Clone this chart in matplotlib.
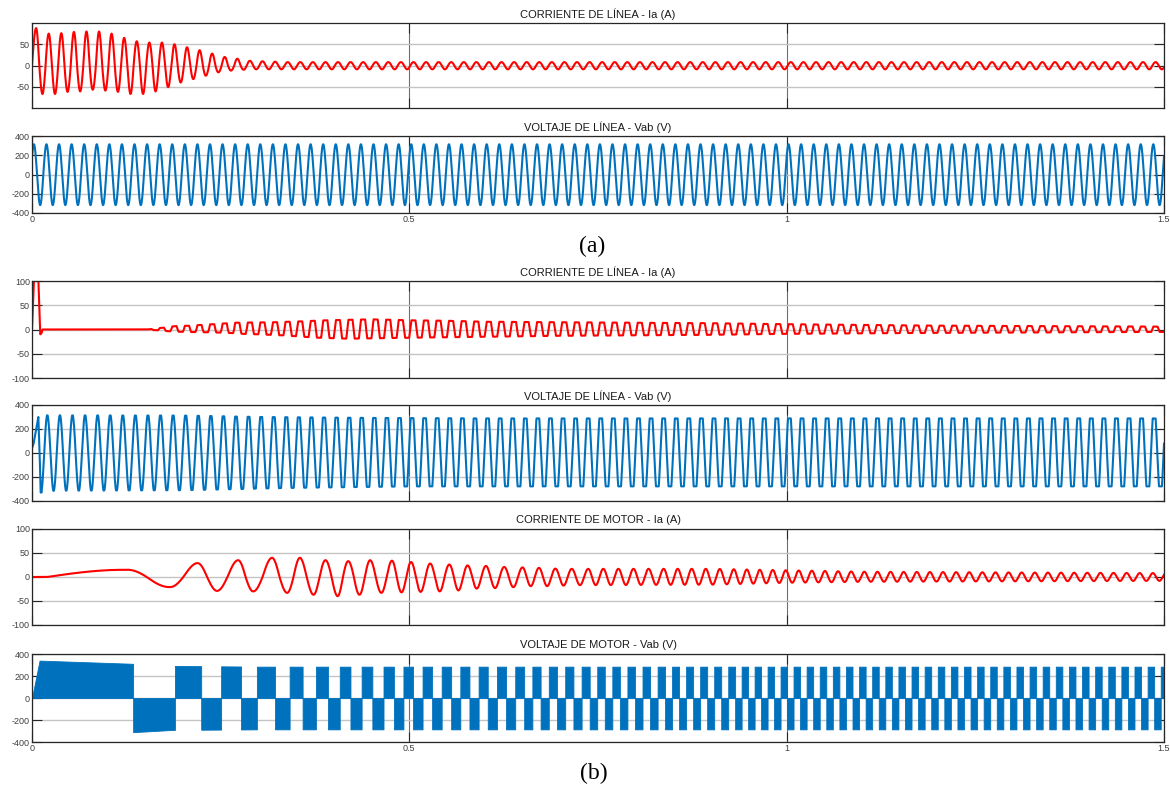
import numpy as np
import matplotlib.pyplot as plt

RED = '#ff0000'
BLUE = '#0072bd'
F_GRID = 60.0

t = np.linspace(0, 1.5, 60001)

# ---- (a) line current Ia (A): peaks / troughs per cycle, first peak at 5.5 ms
a_ia_t0 = 0.0055
a_ia_pos = [88, 75, 76, 79, 80, 80, 75, 65, 57, 54, 54, 50, 43, 36, 28, 20, 16, 11, 10, 9, 8]
a_ia_neg = [-67, -67, -62, -61, -57, -59, -62, -67, -67, -61, -51, -40, -32, -24, -16, -12, -10, -9, -9]

# ---- (a) line voltage Vab (V)
a_vab_t0 = 0.0025
a_vab_pos, a_vab_neg = 314, -318

# ---- (b) line current Ia (A)
b_ia_spike_t = [0, 0.0004, 0.0027, 0.0045, 0.0065, 0.0084, 0.0097, 0.011, 0.0128, 0.0138]
b_ia_spike_v = [0, 14, 110, 170, 150, 105, 42, -10, -7, 0]
b_ia_on = 0.152
b_ia_t0 = 0.172
b_ia_pos_t = [0.152, 0.172, 0.19, 0.21, 0.23, 0.27, 0.32, 0.36, 0.39, 0.45, 0.5, 0.55, 0.6, 0.7, 0.8, 0.9, 1.0, 1.2, 1.5]
b_ia_pos_v = [0, 3.5, 7, 8, 10, 14, 15, 17, 19, 21, 19, 18, 16, 15, 14, 13, 11, 8, 6]
b_ia_neg_t = [0.152, 0.18, 0.2, 0.24, 0.26, 0.28, 0.3, 0.33, 0.35, 0.38, 0.42, 0.5, 0.6, 0.7, 0.8, 0.9, 1.0, 1.2, 1.5]
b_ia_neg_v = [0, -3.5, -5, -6, -7, -9, -10, -12, -14, -17, -19, -17, -15, -13, -12, -11, -9, -7, -5]

# ---- (b) line voltage Vab (V)
b_vab_start_t = [0, 0.002, 0.0045, 0.0065, 0.0084, 0.0100, 0.0115, 0.0128]
b_vab_start_v = [40, 75, 160, 230, 300, 20, -330, -328]
b_vab_t0 = 0.0203
b_vab_pos_t = [0.02, 0.2, 0.3, 0.45, 0.6]
b_vab_pos_v = [314, 312, 300, 292, 288]
b_vab_neg_t = [0.012, 0.03, 0.2, 0.35, 0.5]
b_vab_neg_v = [-330, -314, -310, -290, -278]
b_vab_flat_t = [0, 0.2, 0.5, 1.5]
b_vab_flat_v = [1.0, 1.05, 1.3, 1.35]

# ---- (b) motor current Ia (A): cycle count at read peak / trough times
im_knot_t = [0.0, 0.02, 0.122, 0.182, 0.219, 0.245, 0.273, 0.293, 0.318, 0.338, 0.355, 0.373,
             0.389, 0.405, 0.419, 0.434, 0.448, 0.463, 0.477, 0.553, 0.650, 0.737, 0.837,
             0.930, 1.016, 1.5]
im_knot_cyc = [0, 0, 0.25, 0.75, 1.25, 1.75, 2.25, 2.75, 3.25, 3.75, 4.25, 4.75,
               5.25, 5.75, 6.25, 6.75, 7.25, 7.75, 8.25, 11.25, 15.25, 19.25, 24.25,
               29.25, 34.25, 62.1]
im_pos_t = [0.122, 0.219, 0.273, 0.318, 0.355, 0.389, 0.419, 0.448, 0.477, 0.504, 0.528,
            0.553, 0.578, 0.603, 0.625, 0.65, 0.672, 0.70, 0.9, 1.0, 1.1, 1.5]
im_pos_v = [15, 29, 35, 40, 40, 35, 33, 35, 34, 31, 28, 26, 24, 23, 21, 20, 19, 17, 17, 14, 11, 8]
im_neg_t = [0.182, 0.245, 0.293, 0.338, 0.373, 0.405, 0.434, 0.463, 0.49, 0.515, 0.54,
            0.565, 0.59, 0.615, 0.64, 0.66, 0.685, 0.72, 0.9, 1.0, 1.1, 1.5]
im_neg_v = [-21, -29, -30, -33, -37, -40, -37, -33, -32, -31, -30, -28, -24, -23, -21,
            -19, -19, -17, -16, -12, -10, -8]

# ---- (b) motor voltage Vab (V): PWM blocks, lead over motor current (cycles)
vm_lead = 0.15
vm_top_t = [0, 0.01, 0.13, 0.19, 0.3, 1.5]
vm_top_v = [0, 340, 312, 292, 285, 285]
vm_bot_t = [0.136, 0.187, 0.3, 1.5]
vm_bot_v = [-310, -290, -285, -285]


def half_wave(s, pos, neg):
    return np.where(s >= 0, pos * s, -neg * s)


# line current (a)
tp = a_ia_t0 + np.arange(len(a_ia_pos)) / F_GRID
tn = a_ia_t0 + (np.arange(len(a_ia_neg)) + 0.5) / F_GRID
cyc = np.where(t < a_ia_t0, 0.25 * t / a_ia_t0, 0.25 + (t - a_ia_t0) * F_GRID)
ia_a = half_wave(np.sin(2 * np.pi * cyc), np.interp(t, tp, a_ia_pos), np.interp(t, tn, a_ia_neg))

# line voltage (a)
cyc = 0.25 + (t - a_vab_t0) * F_GRID
vab_a = half_wave(np.sin(2 * np.pi * cyc), a_vab_pos, a_vab_neg)

# line current (b) - rectifier draws a squarish current
cyc = 0.25 + (t - b_ia_t0) * F_GRID
s = np.clip(2.0 * np.sin(2 * np.pi * cyc), -1, 1)
ia_b = half_wave(s, np.interp(t, b_ia_pos_t, b_ia_pos_v), np.interp(t, b_ia_neg_t, b_ia_neg_v))
ia_b[t < b_ia_on] = 0
early = t <= b_ia_spike_t[-1]
ia_b[early] = np.interp(t[early], b_ia_spike_t, b_ia_spike_v)

# line voltage (b)
cyc = 0.25 + (t - b_vab_t0) * F_GRID
s = np.clip(np.interp(t, b_vab_flat_t, b_vab_flat_v) * np.sin(2 * np.pi * cyc), -1, 1)
vab_b = half_wave(s, np.interp(t, b_vab_pos_t, b_vab_pos_v), np.interp(t, b_vab_neg_t, b_vab_neg_v))
early = t <= b_vab_start_t[-1]
vab_b[early] = np.interp(t[early], b_vab_start_t, b_vab_start_v)

# motor current (b)
cyc_m = np.interp(t, im_knot_t, im_knot_cyc)
im_b = half_wave(np.sin(2 * np.pi * cyc_m), np.interp(t, im_pos_t, im_pos_v), np.interp(t, im_neg_t, im_neg_v))

# motor voltage (b)
positive = ((cyc_m + vm_lead) % 1.0) < 0.5
vm_top = np.where(positive, np.interp(t, vm_top_t, vm_top_v), 0)
vm_bot = np.where(positive, 0, np.interp(t, vm_bot_t, vm_bot_v))

# ---------------------------------------------------------------- layout
W, H = 1170, 791
plt.rcParams['font.family'] = ['Liberation Sans', 'DejaVu Sans']
plt.rcParams['axes.unicode_minus'] = False
fig = plt.figure(figsize=(W / 100, H / 100), dpi=100)


def make_axes(top, bottom, title, ylim, yticks, xlabels=False):
    left, right = 32, 1164
    ax = fig.add_axes([left / W, 1 - bottom / H, (right - left) / W, (bottom - top) / H])
    ax.set_xlim(0, 1.5)
    ax.set_ylim(*ylim)
    ax.set_yticks(yticks)
    ax.set_xticks([0, 0.5, 1, 1.5])
    if xlabels:
        ax.set_xticklabels(['0', '0.5', '1', '1.5'])
    else:
        ax.set_xticklabels([])
    ax.yaxis.grid(True, color='#c4c4c4', lw=1.0)
    ax.xaxis.grid(True, color='#6e6e6e', lw=0.8)
    ax.set_axisbelow(True)
    ax.tick_params(direction='in', length=7, width=0.8, color='#262626', top=True, right=True,
                   labelsize=6.5, labelcolor='#404040', pad=1.5)
    for sp in ax.spines.values():
        sp.set_color('#262626')
        sp.set_linewidth(0.9)
    fig.text(598 / W, 1 - (top - 9) / H, title, ha='center', va='center', fontsize=8, color='#1a1a1a')
    return ax


ax = make_axes(23, 108, 'CORRIENTE DE LÍNEA - Ia (A)', (-100, 100), [-50, 0, 50])
ax.plot(t, ia_a, color=RED, lw=1.5)

ax = make_axes(136, 213, 'VOLTAJE DE LÍNEA - Vab (V)', (-400, 400), [-400, -200, 0, 200, 400], True)
ax.plot(t, vab_a, color=BLUE, lw=1.5)

ax = make_axes(281, 378, 'CORRIENTE DE LÍNEA - Ia (A)', (-100, 100), [-100, -50, 0, 50, 100])
ax.plot(t, ia_b, color=RED, lw=1.5)

ax = make_axes(405, 501, 'VOLTAJE DE LÍNEA - Vab (V)', (-400, 400), [-400, -200, 0, 200, 400])
ax.plot(t, vab_b, color=BLUE, lw=1.5)

ax = make_axes(529, 625, 'CORRIENTE DE MOTOR - Ia (A)', (-100, 100), [-100, -50, 0, 50, 100])
ax.plot(t, im_b, color=RED, lw=1.5)

ax = make_axes(654, 742, 'VOLTAJE DE MOTOR - Vab (V)', (-400, 400), [-400, -200, 0, 200, 400], True)
ax.fill_between(t, vm_bot, vm_top, color=BLUE, lw=0.6, edgecolor=BLUE)

fig.text(592 / W, 1 - 246 / H, '(a)', ha='center', va='center', fontsize=17,
         family='Liberation Serif')
fig.text(594 / W, 1 - 773 / H, '(b)', ha='center', va='center', fontsize=17,
         family='Liberation Serif')

fig.savefig('out.png', dpi=100)
